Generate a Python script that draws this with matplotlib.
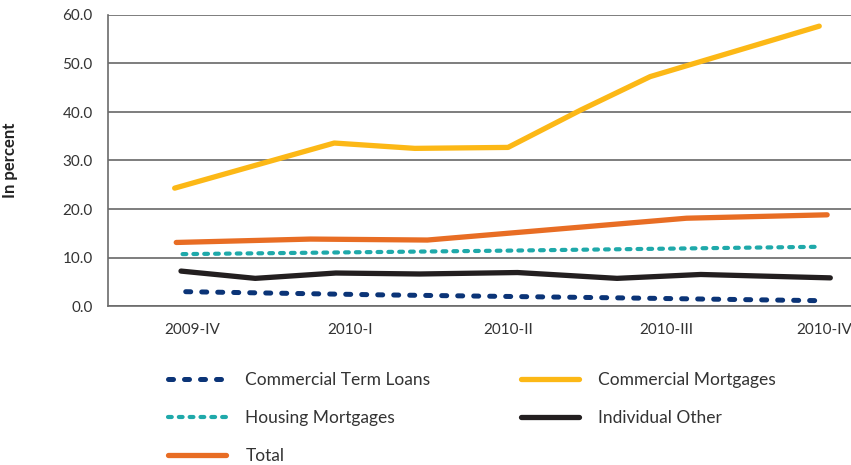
import matplotlib
matplotlib.use("Agg")
import matplotlib.pyplot as plt

matplotlib.rcParams['font.family'] = ['Lato', 'DejaVu Sans']

# quarter labels on the category axis (positions 0..4)
quarters = ['2009-IV', '2010-I', '2010-II', '2010-III', '2010-IV']

# each series: x in quarters since 2009-IV, value in percent
ctl_x = [-0.04, 1.19, 2.65, 3.97]
ctl_y = [2.95, 2.3, 1.7, 1.1]

cm_x = [-0.11, 0.90, 1.41, 2.00, 2.46, 2.90, 3.97]
cm_y = [24.3, 33.6, 32.5, 32.7, 40.4, 47.3, 57.7]

hm_x = [-0.06, 1.95, 3.95]
hm_y = [10.7, 11.4, 12.2]

io_x = [-0.07, 0.40, 0.91, 1.44, 2.06, 2.69, 3.22, 4.04]
io_y = [7.2, 5.7, 6.8, 6.6, 6.9, 5.7, 6.5, 5.8]

tot_x = [-0.10, 0.75, 1.49, 3.13, 4.02]
tot_y = [13.1, 13.8, 13.6, 18.1, 18.8]

yticks = [0, 10, 20, 30, 40, 50, 60]

fig = plt.figure(figsize=(8.51, 4.65), dpi=100)
ax = fig.add_axes([108/851, 1-306/465, (851-108)/851, 291/465])

ctl, = ax.plot(ctl_x, ctl_y, color='#0b3477', lw=3.6, dashes=(1.0, 2.2),
               dash_capstyle='round', solid_capstyle='round', label='Commercial Term Loans')
hm, = ax.plot(hm_x, hm_y, color='#1fa9aa', lw=3.0, dashes=(0.9, 1.7),
              dash_capstyle='round', label='Housing Mortgages')
tot, = ax.plot(tot_x, tot_y, color='#e86d24', lw=3.8, solid_capstyle='round',
               solid_joinstyle='round', label='Total')
cm, = ax.plot(cm_x, cm_y, color='#fcb816', lw=3.8, solid_capstyle='round',
              solid_joinstyle='round', label='Commercial Mortgages')
io, = ax.plot(io_x, io_y, color='#231f20', lw=3.8, solid_capstyle='round',
              solid_joinstyle='round', label='Individual Other')

ax.set_xlim(-0.532, 4.171)
ax.set_ylim(0, 60)
ax.set_yticks(yticks)
ax.set_yticklabels(['%.1f' % v for v in yticks])
ax.set_xticks(range(len(quarters)))
ax.set_xticklabels(quarters)
ax.tick_params(axis='both', length=0, labelsize=11, colors='#333333')
ax.tick_params(axis='y', pad=11)
ax.tick_params(axis='x', pad=12)

ax.grid(axis='y', color='#5a5a5a', lw=1.1)
ax.set_axisbelow(True)
for s in ['top', 'right']:
    ax.spines[s].set_visible(False)
for s in ['left', 'bottom']:
    ax.spines[s].set_color('#6b6b6b')
    ax.spines[s].set_linewidth(1.2)

ax.set_ylabel('In percent', fontsize=12, fontweight='bold', color='#222222')
ax.yaxis.set_label_coords(-0.121, 0.5)

# legend in two blocks below the plot
leg_kw = dict(loc='upper left', frameon=False, fontsize=12.5, handlelength=3.35,
              handletextpad=1.1, labelspacing=1.28, borderpad=0, borderaxespad=0,
              labelcolor='#333333')
fig.legend([ctl, hm, tot], [h.get_label() for h in (ctl, hm, tot)],
           bbox_to_anchor=(168/851, 1-372/465), **leg_kw)
fig.legend([cm, io], [h.get_label() for h in (cm, io)],
           bbox_to_anchor=(521/851, 1-372/465), **leg_kw)

fig.savefig('out.png', dpi=100)
